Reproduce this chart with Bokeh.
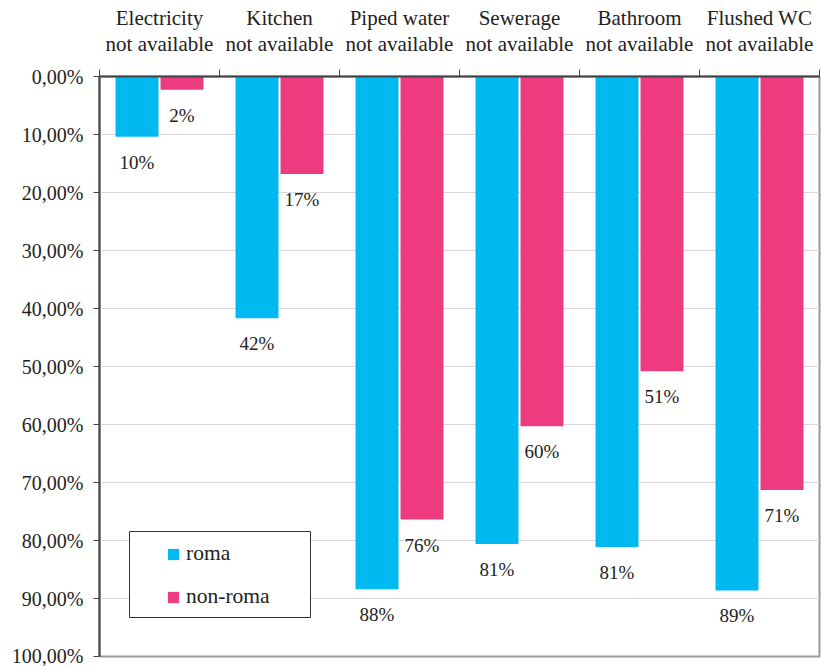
from bokeh.plotting import figure
from bokeh.models import FixedTicker, Range1d, Legend, LegendItem, ColumnDataSource, BoxAnnotation
from bokeh.core.properties import value
from bokeh.embed import file_html
from bokeh.resources import INLINE

categories = ["Electricity\nnot available", "Kitchen\nnot available", "Piped water\nnot available",
              "Sewerage\nnot available", "Bathroom\nnot available", "Flushed WC\nnot available"]
roma = [10.4, 41.7, 88.4, 80.6, 81.1, 88.6]
non_roma = [2.3, 16.8, 76.4, 60.3, 50.8, 71.3]
roma_labels = ["10%", "42%", "88%", "81%", "81%", "89%"]
non_roma_labels = ["2%", "17%", "76%", "60%", "51%", "71%"]
y_ticks = [0, 10, 20, 30, 40, 50, 60, 70, 80, 90, 100]
y_tick_labels = ["0,00%", "10,00%", "20,00%", "30,00%", "40,00%", "50,00%",
                 "60,00%", "70,00%", "80,00%", "90,00%", "100,00%"]

FONT = "Liberation Serif"
CYAN = "#00b9f1"
PINK = "#ee3a7e"
TXT = "#222222"

n = len(categories)
centers = [i + 0.5 for i in range(n)]
off = 0.1875
bw = 0.358

src = ColumnDataSource(dict(
    xr=[c - off for c in centers], xn=[c + off for c in centers],
    roma=roma, non_roma=non_roma, zero=[0] * n,
    rl=roma_labels, nl=non_roma_labels,
))

p = figure(width=821, height=666, output_backend="svg", toolbar_location=None,
           x_range=Range1d(0, n), y_range=Range1d(100, 0), x_axis_location="above",
           min_border_left=99, min_border_right=2, min_border_top=76, min_border_bottom=10)

p.outline_line_color = "#9a9a9a"
p.outline_line_width = 2

r1 = p.vbar(x="xr", top="zero", bottom="roma", width=bw, source=src, fill_color=CYAN, line_color=None)
r2 = p.vbar(x="xn", top="zero", bottom="non_roma", width=bw, source=src, fill_color=PINK, line_color=None)

p.text(x="xr", y="roma", text="rl", source=src, text_align="center", text_baseline="top",
       y_offset=15, text_font=value(FONT), text_font_size="19px", text_color=TXT)
p.text(x="xn", y="non_roma", text="nl", source=src, text_align="center", text_baseline="top",
       y_offset=15, text_font=value(FONT), text_font_size="19px", text_color=TXT)

# x axis (top)
xa = p.xaxis[0]
xa.ticker = FixedTicker(ticks=centers, minor_ticks=list(range(n + 1)))
xa.major_label_overrides = {c: lab for c, lab in zip(centers, categories)}
xa.major_tick_out = 0
xa.major_tick_in = 0
xa.minor_tick_out = 7
xa.minor_tick_in = 0
xa.minor_tick_line_color = "#444444"
xa.axis_line_color = "#444444"
xa.axis_line_width = 2
xa.major_label_text_font = FONT
xa.major_label_text_font_size = "21px"
xa.major_label_text_color = TXT
xa.major_label_text_line_height = 1.05
xa.major_label_standoff = 14

ya = p.yaxis[0]
ya.ticker = FixedTicker(ticks=y_ticks)
ya.major_label_overrides = {t: lab for t, lab in zip(y_ticks, y_tick_labels)}
ya.major_tick_out = 6
ya.major_tick_in = 0
ya.minor_tick_out = 0
ya.minor_tick_in = 0
ya.major_tick_line_color = "#444444"
ya.axis_line_color = "#444444"
ya.axis_line_width = 2
ya.major_label_text_font = FONT
ya.major_label_text_font_size = "20px"
ya.major_label_text_color = TXT
ya.major_label_standoff = 10

p.xgrid.grid_line_color = None
p.ygrid.ticker = FixedTicker(ticks=y_ticks)
p.ygrid.grid_line_color = "#d9d9d9"

box = BoxAnnotation(left=129, right=310, top=531, bottom=617,
                    left_units="canvas", right_units="canvas", top_units="canvas", bottom_units="canvas",
                    fill_color="white", fill_alpha=1, line_color="#333333", line_alpha=1,
                    line_width=1, level="overlay")
p.add_layout(box)

legend = Legend(items=[LegendItem(label="roma", renderers=[r1]),
                       LegendItem(label="non-roma", renderers=[r2])],
                location=(67, 47), padding=0, spacing=18, glyph_width=14, glyph_height=14,
                label_height=16, label_standoff=6, margin=0,
                label_text_font=FONT, label_text_font_size="21.5px", label_text_color=TXT,
                border_line_color=None, background_fill_alpha=0)
p.add_layout(legend)

open("out.html", "w").write(file_html(p, INLINE))
